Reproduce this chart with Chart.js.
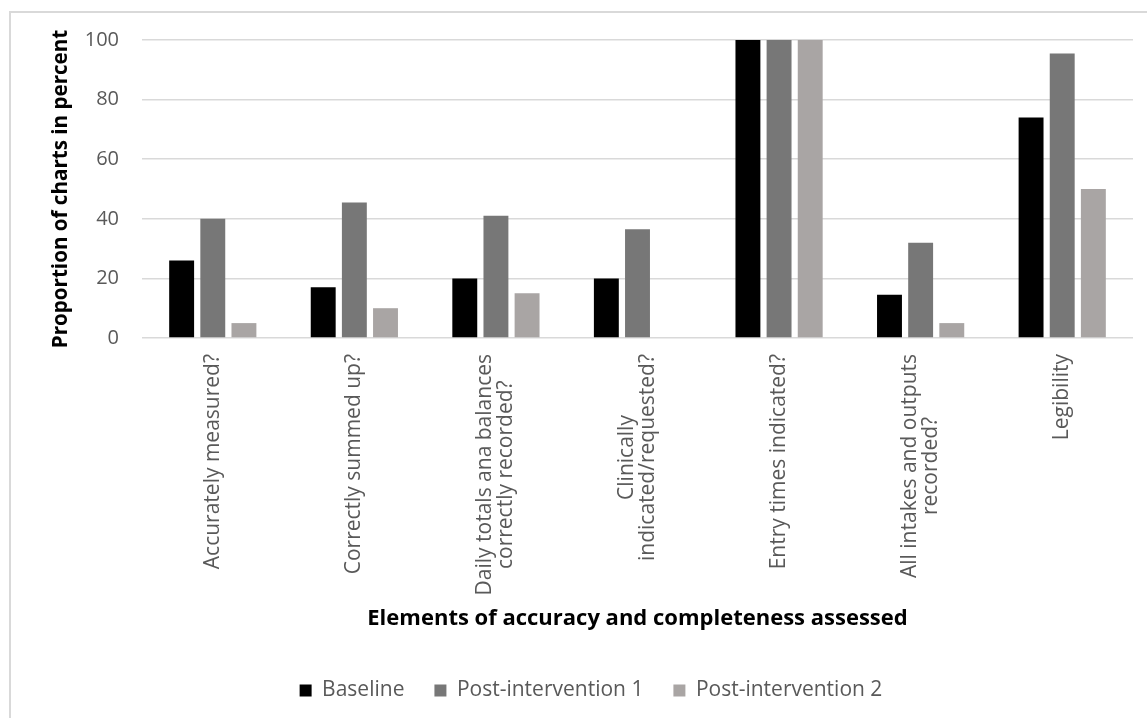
<!DOCTYPE html>
<html>
<head>
<meta charset="utf-8">
<script src="https://cdn.jsdelivr.net/npm/chart.js@4.4.1/dist/chart.umd.min.js"></script>
<style>
  body { margin: 0; background: #fff; overflow: hidden; }
  #frame { position: absolute; left: 9px; top: 11px; width: 1200px; height: 800px; border: 2px solid #d9d9d9; pointer-events: none; }
  #myChart { position: absolute; left: 0; top: 0; }
</style>
</head>
<body>
<div id="frame"></div>
<canvas id="myChart" width="1147" height="718"></canvas>
<script>
const categories = [
  'Accurately measured?',
  'Correctly summed up?',
  ['Daily totals ana balances', 'correctly recorded?'],
  ['Clinically', 'indicated/requested?'],
  'Entry times indicated?',
  ['All intakes and outputs', 'recorded?'],
  'Legibility'
];
const baseline = [26, 17, 20, 20, 100, 14.5, 74];
const post1 = [40, 45.5, 41, 36.5, 100, 32, 95.5];
const post2 = [5, 10, 15, 0, 100, 5, 50];
const yTicks = [0, 20, 40, 60, 80, 100];

const labelFont = '21px "Open Sans"';
const labelLine = 21;

// draw the rotated x labels with each line centred, like the original
const centeredXLabels = {
  id: 'centeredXLabels',
  afterDraw(chart) {
    const xs = chart.scales.x, ctx = chart.ctx;
    ctx.save();
    ctx.font = labelFont;
    ctx.fillStyle = '#595959';
    ctx.textAlign = 'center';
    ctx.textBaseline = 'middle';
    categories.forEach((lab, i) => {
      const lines = Array.isArray(lab) ? lab : [lab];
      const w = Math.max(...lines.map(l => ctx.measureText(l).width));
      const cx = xs.getPixelForValue(i);
      ctx.save();
      ctx.translate(cx, xs.top + 16 + w / 2);
      ctx.rotate(-Math.PI / 2);
      lines.forEach((l, k) => ctx.fillText(l, 0, (k - (lines.length - 1) / 2) * labelLine));
      ctx.restore();
    });
    ctx.restore();
  }
};

let ctx = document.getElementById('myChart').getContext('2d');
let chart = new Chart(ctx, {
  type: 'bar',
  data: {
    labels: categories,
    datasets: [
      { label: 'Baseline', data: baseline, backgroundColor: '#000000' },
      { label: 'Post-intervention 1', data: post1, backgroundColor: '#777777' },
      { label: 'Post-intervention 2', data: post2, backgroundColor: '#a9a5a4' }
    ]
  },
  options: {
    responsive: false,
    animation: false,
    devicePixelRatio: 1,
    layout: { padding: { left: 49, right: 14, top: 40, bottom: 7 } },
    datasets: { bar: { categoryPercentage: 0.66, barPercentage: 0.8 } },
    plugins: {
      tooltip: { enabled: false },
      legend: {
        position: 'bottom',
        labels: {
          color: '#595959',
          font: { family: 'Open Sans', size: 21 },
          boxWidth: 12, boxHeight: 12, padding: 30
        }
      }
    },
    scales: {
      x: {
        afterFit: s => { s.height = 312; },
        grid: { display: false },
        border: { display: false },
        ticks: {
          color: 'rgba(0,0,0,0)',
          font: { family: 'Open Sans', size: 21, lineHeight: 1 },
          minRotation: 90, maxRotation: 90, padding: 16
        },
        title: {
          display: true,
          text: 'Elements of accuracy and completeness assessed',
          color: '#000',
          font: { family: 'Open Sans', size: 22, weight: 'bold' },
          padding: { top: 16, bottom: 18 }
        }
      },
      y: {
        min: 0, max: 100,
        afterFit: s => { s.width = 93; },
        afterBuildTicks: s => { s.ticks = yTicks.map(v => ({ value: v })); },
        grid: { color: '#d9d9d9', lineWidth: 1.5, drawTicks: false },
        border: { display: false },
        ticks: {
          color: '#595959',
          font: { family: 'Open Sans', size: 20 },
          padding: 23
        },
        title: {
          display: true,
          text: 'Proportion of charts in percent',
          color: '#000',
          font: { family: 'Open Sans', size: 20.6, weight: 'bold' },
          padding: { top: 0, bottom: 11 }
        }
      }
    }
  },
  plugins: [centeredXLabels]
});
</script>
</body>
</html>
